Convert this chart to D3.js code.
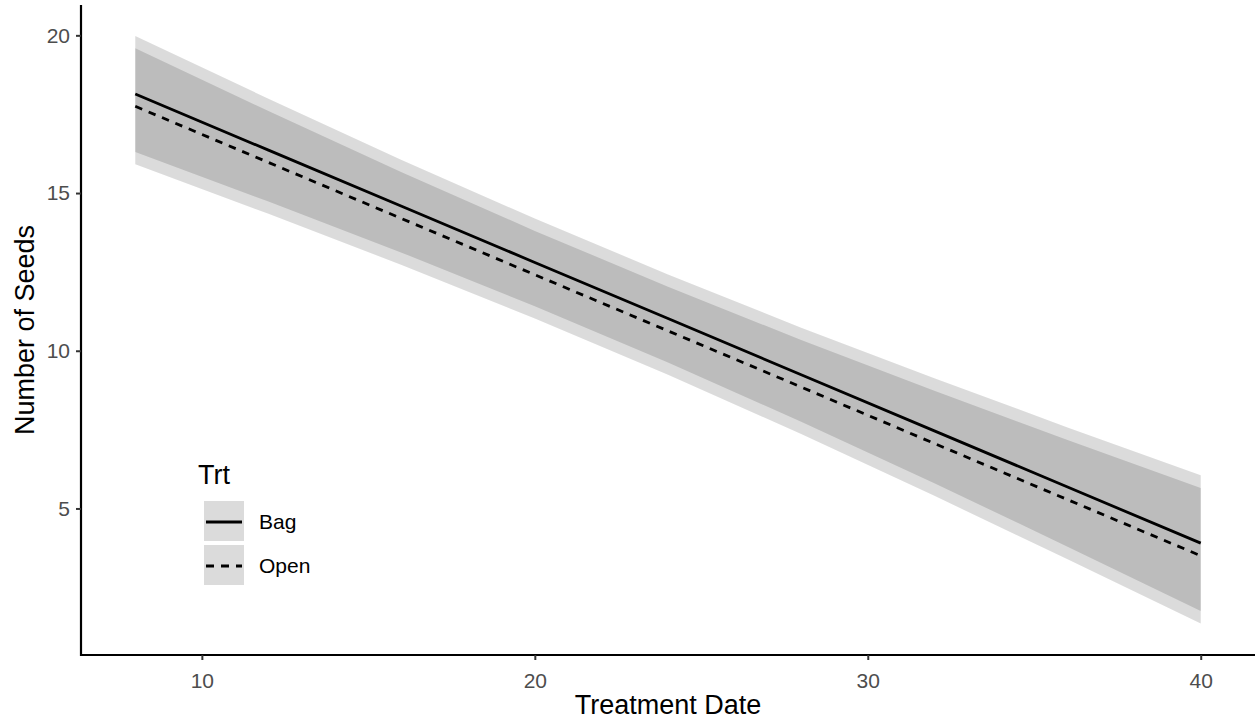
<!DOCTYPE html>
<html>
<head>
<meta charset="utf-8">
<script src="https://cdn.jsdelivr.net/npm/d3@7"></script>
<style>
  html, body { margin: 0; padding: 0; background: #fff; }
  svg { display: block; font-family: "Liberation Sans", Arial, Helvetica, sans-serif; }
</style>
</head>
<body>
<svg id="chart" width="1255" height="719"></svg>
<script>
// ---- data ----
const dates     = [8, 12, 16, 20, 24, 28, 32, 36, 40];
const bagFit    = [18.14, 16.36, 14.58, 12.80, 11.02, 9.24, 7.46, 5.68, 3.90];
const bagUpper  = [19.98, 17.99, 16.05, 14.19, 12.42, 10.73, 9.13, 7.57, 6.05];
const bagLower  = [16.30, 14.73, 13.11, 11.41, 9.63, 7.75, 5.80, 3.79, 1.75];
const openFit   = [17.75, 15.97, 14.19, 12.41, 10.63, 8.85, 7.06, 5.28, 3.50];
const openUpper = [19.59, 17.60, 15.66, 13.80, 12.03, 10.34, 8.73, 7.17, 5.65];
const openLower = [15.91, 14.34, 12.72, 11.02, 9.24, 7.36, 5.40, 3.39, 1.35];
const xTicks = [10, 20, 30, 40];
const yTicks = [5, 10, 15, 20];
const groups = ["Bag", "Open"];
const xTitle = "Treatment Date";
const yTitle = "Number of Seeds";
const legendTitle = "Trt";

// ---- layout ----
const svg = d3.select("#chart");
const x = d3.scaleLinear().domain([6.4, 41.6]).range([82, 1254]);
const y = d3.scaleLinear().domain([0.37, 20.93]).range([654.5, 6]);

const series = [
  { name: groups[0], fit: bagFit, up: bagUpper, lo: bagLower, dash: null },
  { name: groups[1], fit: openFit, up: openUpper, lo: openLower, dash: "7.5,7" }
];

const area = d3.area()
  .x((d, i) => x(dates[i]))
  .y0(d => y(d.lo))
  .y1(d => y(d.up));
const line = d3.line()
  .x((d, i) => x(dates[i]))
  .y(d => y(d));

// ribbons
series.forEach(s => {
  const pts = dates.map((d, i) => ({ lo: s.lo[i], up: s.up[i] }));
  svg.append("path")
    .attr("d", area(pts))
    .attr("fill", "#000")
    .attr("fill-opacity", 0.14);
});

// lines
series.forEach(s => {
  svg.append("path")
    .attr("d", line(s.fit))
    .attr("fill", "none")
    .attr("stroke", "#000")
    .attr("stroke-width", 2.8)
    .attr("stroke-dasharray", s.dash);
});

// axes
const xAxis = svg.append("g")
  .attr("transform", "translate(0,655)")
  .call(d3.axisBottom(x).tickValues(xTicks).tickSize(5).tickSizeOuter(0).tickPadding(13));
const yAxis = svg.append("g")
  .attr("transform", "translate(81,0)")
  .call(d3.axisLeft(y).tickValues(yTicks).tickSize(5).tickSizeOuter(0).tickPadding(6));

[xAxis, yAxis].forEach(g => {
  g.select(".domain").attr("stroke", "#000").attr("stroke-width", 2.2);
  g.selectAll(".tick line").attr("stroke", "#333").attr("stroke-width", 2);
  g.selectAll(".tick text")
    .attr("fill", "#4D4D4D")
    .style("font-size", "21px")
    .style("font-family", "'Liberation Sans', Arial, sans-serif");
});
// extend axis lines to full panel edges
xAxis.select(".domain").attr("d", "M81,0H1255");
yAxis.select(".domain").attr("d", "M0,5V656");

// axis titles
svg.append("text")
  .attr("x", 668).attr("y", 714)
  .attr("text-anchor", "middle")
  .style("font-size", "27px")
  .attr("fill", "#000")
  .text(xTitle);
svg.append("text")
  .attr("transform", "translate(34,330) rotate(-90)")
  .attr("text-anchor", "middle")
  .style("font-size", "27px")
  .attr("fill", "#000")
  .text(yTitle);

// legend
const leg = svg.append("g");
leg.append("text")
  .attr("x", 198).attr("y", 484)
  .style("font-size", "27px")
  .attr("fill", "#000")
  .text(legendTitle);
series.forEach((s, i) => {
  const top = 501 + i * 44;
  leg.append("rect")
    .attr("x", 204).attr("y", top)
    .attr("width", 40).attr("height", 40)
    .attr("fill", "#000").attr("fill-opacity", 0.14);
  leg.append("line")
    .attr("x1", 206).attr("x2", 242)
    .attr("y1", top + 21).attr("y2", top + 21)
    .attr("stroke", "#000").attr("stroke-width", 2.8)
    .attr("stroke-dasharray", s.dash ? "8,7" : null);
  leg.append("text")
    .attr("x", 259).attr("y", top + 21)
    .attr("dy", "0.35em")
    .style("font-size", "21px")
    .attr("fill", "#000")
    .text(s.name);
});
</script>
</body>
</html>
